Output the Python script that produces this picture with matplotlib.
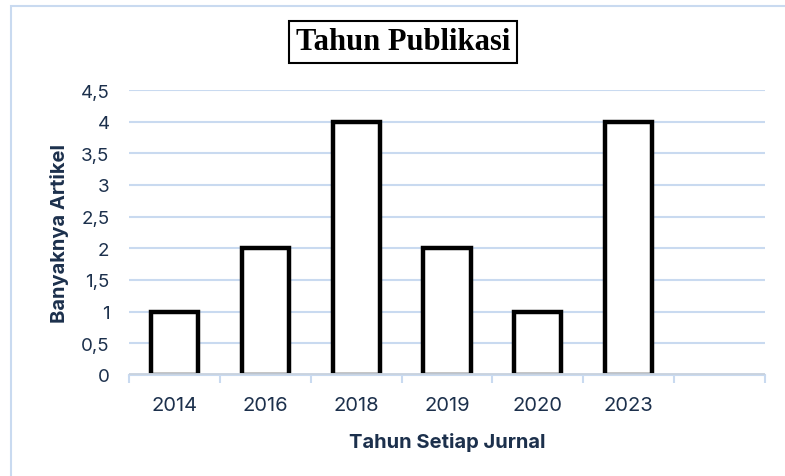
import matplotlib.pyplot as plt
from matplotlib.patches import Rectangle
import numpy as np

# data
years = ['2014', '2016', '2018', '2019', '2020', '2023', '']
counts = [1, 2, 4, 2, 1, 4, 0]

gridBlue = '#c9daf0'
textNavy = '#1c304c'

fig = plt.figure(figsize=(7.85, 4.77), dpi=100)
ax = fig.add_axes([129/785, 1 - 376/477, 636/785, 285/477])

# outer chart border (cut off at right/bottom)
fig.patches.append(Rectangle((11/785, -0.1), 1.2, 1.1 - 7/477, transform=fig.transFigure,
                             fill=False, edgecolor=gridBlue, linewidth=1.5))

x = np.arange(len(years))
ax.bar(x[:6], counts[:6], width=0.52, color='white', edgecolor='black', linewidth=3.2, zorder=2)
ax.axhline(0, color='#c9d3df', linewidth=3.5, zorder=3)

ax.set_xlim(-0.5, len(years) - 0.5)
ax.set_ylim(0, 4.5)
yt = np.arange(0, 5, 0.5)
ax.set_yticks(yt)
ax.set_yticklabels([('%g' % v).replace('.', ',') for v in yt])
ax.set_xticks(x[:6])
ax.set_xticklabels(years[:6])
ax.set_xticks(np.arange(-0.5, len(years)), minor=True)
ax.grid(axis='y', color=gridBlue, linewidth=1.5, zorder=0)
ax.set_axisbelow(True)

for s in ['top', 'right', 'left']:
    ax.spines[s].set_visible(False)
ax.spines['bottom'].set_color(gridBlue)
ax.spines['bottom'].set_linewidth(1.5)

ax.tick_params(axis='y', length=0, pad=14, labelsize=13.5, labelcolor=textNavy)
ax.tick_params(axis='x', which='major', length=0, pad=15, labelsize=14.5, labelcolor=textNavy)
ax.tick_params(axis='x', which='minor', length=6, width=1.5, color=gridBlue)
for lab in ax.get_xticklabels() + ax.get_yticklabels():
    lab.set_family('Inter')

ax.set_xlabel('Tahun Setiap Jurnal', fontsize=14.5, fontweight='bold', color=textNavy,
              family='Inter', labelpad=13)
ax.set_ylabel('Banyaknya Artikel', fontsize=14.5, fontweight='bold', color=textNavy,
              family='Inter')
ax.yaxis.set_label_coords(-0.095, 0.5)

fig.text(403/785, 1 - 43/477, 'Tahun Publikasi', ha='center', va='center',
         fontsize=22, fontweight='bold', family='Liberation Serif',
         bbox=dict(boxstyle='square,pad=0.22', facecolor='white', edgecolor='black', linewidth=1.5))

fig.savefig('out.png', dpi=100)
